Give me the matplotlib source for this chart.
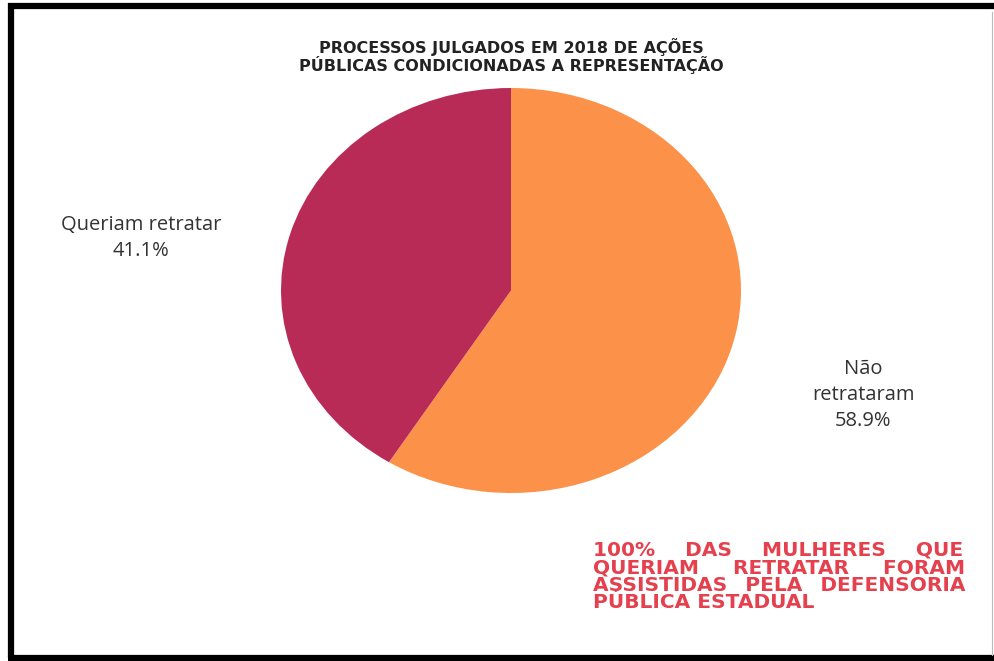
import matplotlib
matplotlib.use("Agg")
import matplotlib.pyplot as plt
from matplotlib.lines import Line2D

# dados do grafico
categorias = ["Não\nretrataram", "Queriam retratar"]
valores = [58.9, 41.1]
cores = ["#fc914a", "#b92b57"]
titulo = "PROCESSOS JULGADOS EM 2018 DE AÇÕES\nPÚBLICAS CONDICIONADAS A REPRESENTAÇÃO"
nota = ["100% DAS MULHERES QUE",
        "QUERIAM RETRATAR FORAM",
        "ASSISTIDAS PELA DEFENSORIA",
        "PÚBLICA ESTADUAL"]

W, H = 994, 661
fig = plt.figure(figsize=(W / 100, H / 100), dpi=100)
fig.patch.set_facecolor("white")


def px(x, y):
    """pixel (a partir do topo) -> coordenadas da figura"""
    return x / W, 1 - y / H


# pizza esticada na horizontal, como no original
ax = fig.add_axes([281 / W, (H - 493) / H, 460 / W, 405 / H])
ax.pie(valores, colors=cores, startangle=90, counterclock=False,
       wedgeprops=dict(linewidth=0))
ax.set_aspect("auto")
ax.set_xlim(-1, 1); ax.set_ylim(-1, 1)
ax.axis("off")

# rotulos fora da pizza
rot = dict(ha="center", va="center", fontsize=14.5, color="#333333",
           family="Open Sans", linespacing=1.42)
fig.text(*px(863, 395), f"{categorias[0]}\n{valores[0]:.1f}%", **rot)
fig.text(*px(141, 238), f"{categorias[1]}\n{valores[1]:.1f}%", **rot)

fig.text(*px(511, 56), titulo, ha="center", va="center", fontsize=11.5,
         weight="bold", color="#222222", family="DejaVu Sans", linespacing=1.0)

# nota vermelha justificada (um unico texto, espacos ajustados)
estilo = dict(fontsize=14.5, weight="bold", color="#e5404d",
              family="DejaVu Sans")
x0, x1 = 593, 965
renderer = fig.canvas.get_renderer()


def largura(s):
    t = fig.text(0, 0, s, **estilo)
    w = t.get_window_extent(renderer).width
    t.remove()
    return w


w_esp = largura("A A") - largura("AA")
w_fino = largura("A\u200aA") - largura("AA")
linhas = []
for i, linha in enumerate(nota):
    palavras = linha.split()
    if i == len(nota) - 1:
        linhas.append(linha)
        continue
    livre = (x1 - x0) - largura("".join(palavras))
    g = livre / (len(palavras) - 1)
    n = int(g // w_esp)
    m = int(round((g - n * w_esp) / w_fino))
    linhas.append((" " * n + "\u200a" * m).join(palavras))

fig.text(*px(x0, 541), "\n".join(linhas), ha="left", va="top",
         linespacing=0.9, **estilo)

# moldura preta (esquerda, topo, base)
for (xa, ya), (xb, yb) in [((11, 3), (11, 658)), ((8, 6), (994, 6)),
                           ((8, 658), (994, 658))]:
    fig.add_artist(Line2D([xa / W, xb / W], [1 - ya / H, 1 - yb / H],
                          color="black", lw=4.5, solid_capstyle="butt"))
fig.add_artist(Line2D([992 / W, 992 / W], [1 - 12 / H, 1 - 655 / H],
                      color="#bbbbbb", lw=0.8))

fig.savefig("out.png", dpi=100)
